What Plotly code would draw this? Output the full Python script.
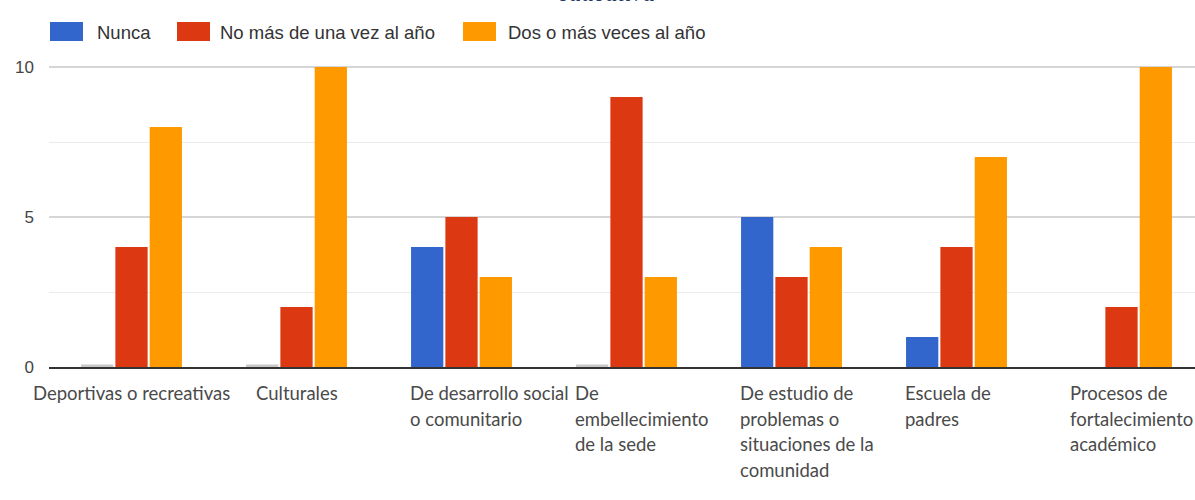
import plotly.graph_objects as go

# Survey data: frequency of each type of activity
categories = [
    "Deportivas o recreativas",
    "Culturales",
    "De desarrollo social o comunitario",
    "De embellecimiento de la sede",
    "De estudio de problemas o situaciones de la comunidad",
    "Escuela de padres",
    "Procesos de fortalecimiento académico",
]
# How each category label wraps under the axis
label_lines = [
    ["Deportivas o recreativas"],
    ["Culturales"],
    ["De desarrollo social", "o comunitario"],
    ["De", "embellecimiento", "de la sede"],
    ["De estudio de", "problemas o", "situaciones de la", "comunidad"],
    ["Escuela de", "padres"],
    ["Procesos de", "fortalecimiento", "académico"],
]
series_names = ["Nunca", "No más de una vez al año", "Dos o más veces al año"]
nunca = [0, 0, 4, 0, 5, 1, None]
una_vez = [4, 2, 5, 9, 3, 4, 2]
dos_o_mas = [8, 10, 3, 3, 4, 7, 10]
y_ticks = [0, 5, 10]

colors = ["#3366cc", "#dc3912", "#ff9900"]
stub_color = "#c8c8c8"
STUB = 0.08  # zero answers are shown as a thin grey stub on the baseline

# Page geometry (pixels)
FIG_W, FIG_H = 1195, 500
M_L, M_R, M_T, M_B = 49, 0, 64, 133
PLOT_W = FIG_W - M_L - M_R
PLOT_H = FIG_H - M_T - M_B
Y_MAX = 10.1
CAT_PX = 165.0
LINE_PX = 25.5


def px_x(p):
    return (p - M_L) / PLOT_W


def px_y(p):
    return (M_T + PLOT_H - p) / PLOT_H


fig = go.Figure()

nunca_plot = [None if v is None else (v if v > 0 else STUB) for v in nunca]
nunca_cols = [colors[0] if (v or 0) > 0 else stub_color for v in nunca]
fig.add_trace(go.Bar(
    name=series_names[0], x=categories, y=nunca_plot,
    customdata=nunca, marker=dict(color=nunca_cols, line=dict(width=0)),
    hovertemplate="%{x}<br>" + series_names[0] + ": %{customdata}<extra></extra>",
))
for name, vals, col in [(series_names[1], una_vez, colors[1]),
                        (series_names[2], dos_o_mas, colors[2])]:
    fig.add_trace(go.Bar(
        name=name, x=categories, y=vals,
        marker=dict(color=col, line=dict(width=0)),
        hovertemplate="%{x}<br>" + name + ": %{y}<extra></extra>",
    ))

annotations = []
shapes = []

# Category labels: single lines centred, wrapped labels left-aligned
label_font = dict(family="Lato, 'Open Sans', sans-serif", size=18.5, color="#4a4a4a")
for i, lines in enumerate(label_lines):
    for k, line in enumerate(lines):
        if len(lines) == 1:
            xpos, anchor = i, "center"
        else:
            xpos, anchor = i - 54 / CAT_PX, "left"
        annotations.append(dict(
            xref="x", yref="paper", x=xpos, y=0, xanchor=anchor, yanchor="top",
            text=line, showarrow=False, font=label_font,
            yshift=-13 - k * LINE_PX,
        ))

# Custom legend row
legend_font = dict(family="'Liberation Sans', Arial, sans-serif", size=18.5, color="#333333")
legend_items = [(50, 95), (177, 218), (463, 506)]
for (sx, tx), name, col in zip(legend_items, series_names, colors):
    shapes.append(dict(type="rect", xref="paper", yref="paper",
                       x0=px_x(sx), x1=px_x(sx + 33), y0=px_y(41), y1=px_y(22),
                       fillcolor=col, line=dict(width=0)))
    annotations.append(dict(xref="paper", yref="paper", x=px_x(tx), y=px_y(32),
                            xanchor="left", yanchor="middle", text=name,
                            showarrow=False, font=legend_font))

# Caption text running off the top of the page
annotations.append(dict(
    xref="paper", yref="paper", x=px_x(606), y=px_y(8), xanchor="center",
    yanchor="bottom", text="<i>educativa</i>", showarrow=False,
    font=dict(family="'Liberation Serif', 'DejaVu Serif', serif", size=25, color="#1f3864"),
))

fig.update_layout(
    width=FIG_W, height=FIG_H,
    margin=dict(l=M_L, r=M_R, t=M_T, b=M_B, pad=0),
    paper_bgcolor="white", plot_bgcolor="white",
    barmode="group", bargap=0.376, bargroupgap=0.06,
    showlegend=False,
    annotations=annotations, shapes=shapes,
    xaxis=dict(
        range=[-0.5, -0.5 + PLOT_W / CAT_PX], showticklabels=False, ticks="",
        showgrid=False, showline=True, linecolor="#333333", linewidth=1.5,
        zeroline=False, fixedrange=True,
    ),
    yaxis=dict(
        range=[0, Y_MAX], tickvals=y_ticks, ticks="", ticklabelstandoff=14,
        tickfont=dict(family="'Liberation Sans', Arial, sans-serif", size=17, color="#444444"),
        showgrid=True, gridcolor="#d6d6d6", gridwidth=1.5,
        minor=dict(dtick=2.5, showgrid=True, gridcolor="#ebebeb", gridwidth=1),
        zeroline=False, showline=False, fixedrange=True,
    ),
)

fig.write_html("out.html")
